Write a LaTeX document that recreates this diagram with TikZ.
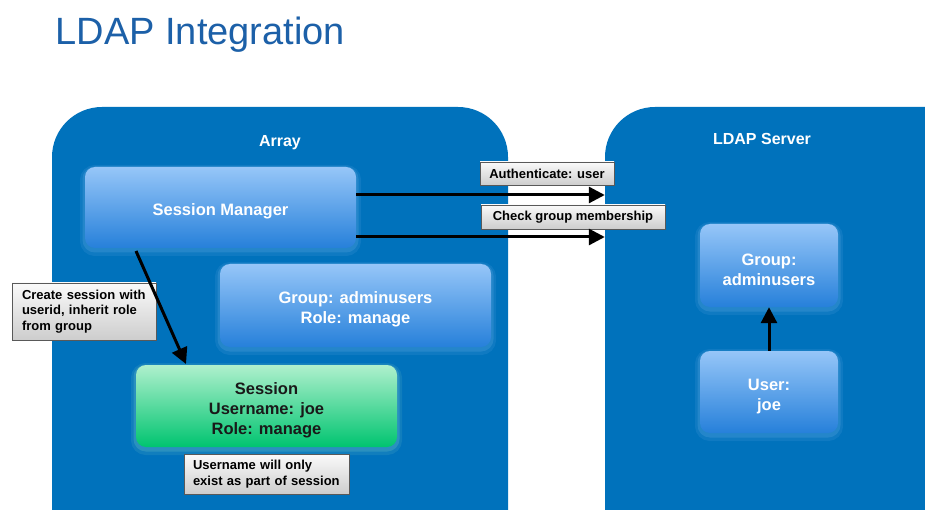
\documentclass[tikz,border=0pt]{standalone}
\usepackage{fontspec}
\setmainfont{Liberation Sans}
\usetikzlibrary{arrows.meta,calc}
\definecolor{outerblue}{RGB}{0,114,188}
\definecolor{titleblue}{RGB}{28,96,168}
\definecolor{boxtop}{RGB}{150,198,248}
\definecolor{boxbot}{RGB}{38,128,218}
\definecolor{greentop}{RGB}{175,240,205}
\definecolor{greenbot}{RGB}{0,196,112}
\definecolor{lbltop}{RGB}{250,250,250}
\definecolor{lblbot}{RGB}{205,205,205}
\newcommand{\dnstrut}{\rule{0pt}{20pt}}
\tikzset{
  outerbox/.style={fill=outerblue, rounded corners=50pt, inner sep=0pt},
  halo/.style={preaction={draw=#1, line width=10pt, opacity=0.10, transform canvas={yshift=-3pt}},
    preaction={draw=#1, line width=5pt, opacity=0.16, transform canvas={yshift=-2pt}}},
  bluebox/.style={rounded corners=10pt, top color=boxtop, bottom color=boxbot, draw=none, halo=boxtop,
    text=white, font=\fontsize{16.5}{20}\selectfont\bfseries, align=center, inner sep=0pt},
  greenbox/.style={rounded corners=10pt, top color=greentop, bottom color=greenbot, draw=none, halo=greentop,
    text=black!90, font=\fontsize{16.5}{20}\selectfont\bfseries, align=center, inner sep=0pt},
  lbl/.style={top color=lbltop, bottom color=lblbot, draw=gray!70!black, line width=0.6pt,
    font=\fontsize{13}{15.5}\selectfont\bfseries, inner sep=0pt},
  heading/.style={text=white, font=\fontsize{16}{19}\selectfont\bfseries},
  conn/.style={line width=3pt, -{Triangle[length=16pt,width=16pt]}}
}
\begin{document}
\begin{tikzpicture}[x=1pt,y=-1pt]
\useasboundingbox (0,0) rectangle (925,510);
\clip (0,0) rectangle (925,510);
\fill[white] (0,0) rectangle (925,510);
\node[anchor=base west, text=titleblue, font=\fontsize{38}{44}\selectfont] (title) at (52,45) {LDAP Integration};
\node[outerbox, minimum width=456pt, minimum height=453pt] (arraybox) at (280,333.5) {};
\node[outerbox, minimum width=370pt, minimum height=453pt] (ldapbox) at (790,333.5) {};
\node[heading] (arraylbl) at (280,143) {Array};
\node[heading] (ldaplbl) at (762,139) {LDAP Server};
\node[bluebox, minimum width=271pt, minimum height=81pt] (sm) at (220.5,207.5) {\dnstrut Session Manager};
\node[bluebox, minimum width=271pt, minimum height=83pt] (grp) at (355.5,305.5) {\dnstrut Group: adminusers\\Role: manage};
\node[greenbox, minimum width=261pt, minimum height=82pt] (sess) at (266.5,406) {\dnstrut Session\\Username: joe\\Role: manage};
\node[bluebox, minimum width=138pt, minimum height=83pt] (lgrp) at (769,265.5) {\dnstrut Group:\\adminusers};
\node[bluebox, minimum width=138pt, minimum height=82pt] (luser) at (769,392) {\dnstrut User:\\joe};
\node[lbl, minimum width=144pt, minimum height=57pt, align=left, text width=124pt] (create) at (84,311.5) {Create session with\\userid, inherit role\\from group};
\node[lbl, minimum width=165pt, minimum height=40pt, align=left, text width=147pt] (exist) at (266.5,474) {Username will only\\exist as part of session};
\node[lbl, minimum width=134pt, minimum height=23pt] (auth) at (547,173.5) {Authenticate: user};
\node[lbl, minimum width=184pt, minimum height=24pt] (check) at (573,217) {Check group membership};
\coordinate (a1) at (605,195);
\coordinate (a2) at (605,237);
\draw[conn] (sm.east |- a1) -- (ldapbox.west |- a1);
\draw[conn] (sm.east |- a2) -- (ldapbox.west |- a2);
\coordinate (s1) at (136,251);
\coordinate (s2) at (186,364);
\draw[conn] (s1) -- (s2);
\draw[conn] (luser.north) -- (lgrp.south);
\end{tikzpicture}
\end{document}
